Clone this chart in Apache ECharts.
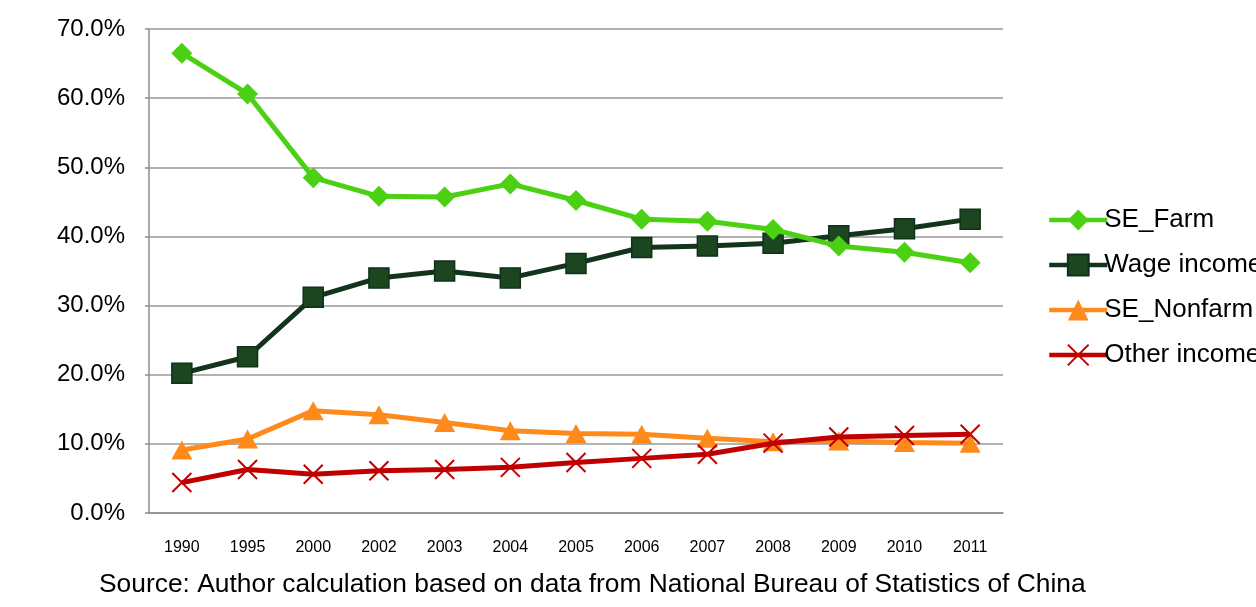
<!DOCTYPE html>
<html>
<head>
<meta charset="utf-8">
<script src="https://cdn.jsdelivr.net/npm/echarts@6/dist/echarts.min.js"></script>
<style>
html,body{margin:0;padding:0;background:#fff;}
#chart{width:1256px;height:607px;}
</style>
</head>
<body>
<div id="chart"></div>
<script>
const years = ['1990','1995','2000','2002','2003','2004','2005','2006','2007','2008','2009','2010','2011'];
const seFarm    = [66.5, 60.6, 48.5, 45.8, 45.7, 47.6, 45.2, 42.5, 42.2, 41.0, 38.6, 37.7, 36.2];
const wage      = [20.2, 22.6, 31.2, 34.0, 35.0, 34.0, 36.1, 38.4, 38.6, 39.0, 40.1, 41.1, 42.5];
const seNonfarm = [9.1, 10.7, 14.8, 14.2, 13.1, 11.9, 11.5, 11.4, 10.8, 10.3, 10.4, 10.2, 10.1];
const other     = [4.4, 6.3, 5.6, 6.1, 6.3, 6.6, 7.3, 7.9, 8.5, 10.1, 11.0, 11.2, 11.4];
const yTicks = [0, 10, 20, 30, 40, 50, 60, 70];
const sourceText = 'Source: Author calculation based on data from National Bureau of Statistics of China';

const FONT = '"Liberation Sans", Arial, sans-serif';
const chart = echarts.init(document.getElementById('chart'), null, {renderer: 'canvas'});

const crossPath = 'path://M0,0 L10,10 M10,0 L0,10';

chart.setOption({
  animation: false,
  backgroundColor: '#ffffff',
  grid: {left: 149, right: 253, top: 29, bottom: 94, containLabel: false},
  xAxis: {
    type: 'category',
    data: years,
    boundaryGap: true,
    axisLine: {lineStyle: {color: '#8c8c8c', width: 1.5}},
    axisTick: {show: false},
    axisLabel: {color: '#000', fontFamily: FONT, fontSize: 16, margin: 27}
  },
  yAxis: {
    type: 'value',
    min: yTicks[0],
    max: yTicks[yTicks.length - 1],
    interval: 10,
    axisLine: {show: true, lineStyle: {color: '#8c8c8c', width: 1.5}},
    axisTick: {show: true, length: 4, lineStyle: {color: '#8c8c8c', width: 1.5}},
    splitLine: {lineStyle: {color: '#999999', width: 1.5}},
    axisLabel: {color: '#000', fontFamily: FONT, fontSize: 24, margin: 24,
      formatter: v => v.toFixed(1) + '%'}
  },
  legend: {
    orient: 'vertical',
    left: 1042,
    top: 202,
    itemWidth: 58,
    itemHeight: 26,
    itemGap: 19,
    lineStyle: {width: 4.5},
    textStyle: {color: '#000', fontFamily: FONT, fontSize: 26, lineHeight: 26, padding: [0,0,0,-8]},
    data: ['SE_Farm', 'Wage income', 'SE_Nonfarm', 'Other income']
  },
  graphic: [{
    type: 'text',
    left: 99,
    top: 573,
    scaleX: 1.055,
    style: {text: sourceText, fill: '#000', font: '25px ' + FONT}
  }],
  series: [
    {
      name: 'SE_Farm', type: 'line', data: seFarm,
      symbol: 'diamond', symbolSize: 21,
      lineStyle: {color: '#4bd013', width: 5},
      itemStyle: {color: '#4bd013'},
      z: 4
    },
    {
      name: 'Wage income', type: 'line', data: wage,
      symbol: 'rect', symbolSize: 20,
      lineStyle: {color: '#12341a', width: 5},
      itemStyle: {color: '#1b4620', borderColor: '#10301a', borderWidth: 1.5},
      z: 3
    },
    {
      name: 'SE_Nonfarm', type: 'line', data: seNonfarm,
      symbol: 'triangle', symbolSize: [21, 19],
      lineStyle: {color: '#ff8a1c', width: 5},
      itemStyle: {color: '#ff8a1c'},
      z: 2
    },
    {
      name: 'Other income', type: 'line', data: other,
      symbol: crossPath, symbolSize: 19,
      lineStyle: {color: '#c00000', width: 5},
      itemStyle: {color: 'rgba(0,0,0,0)', borderColor: '#c00000', borderWidth: 2},
      z: 5
    }
  ]
});
</script>
</body>
</html>
